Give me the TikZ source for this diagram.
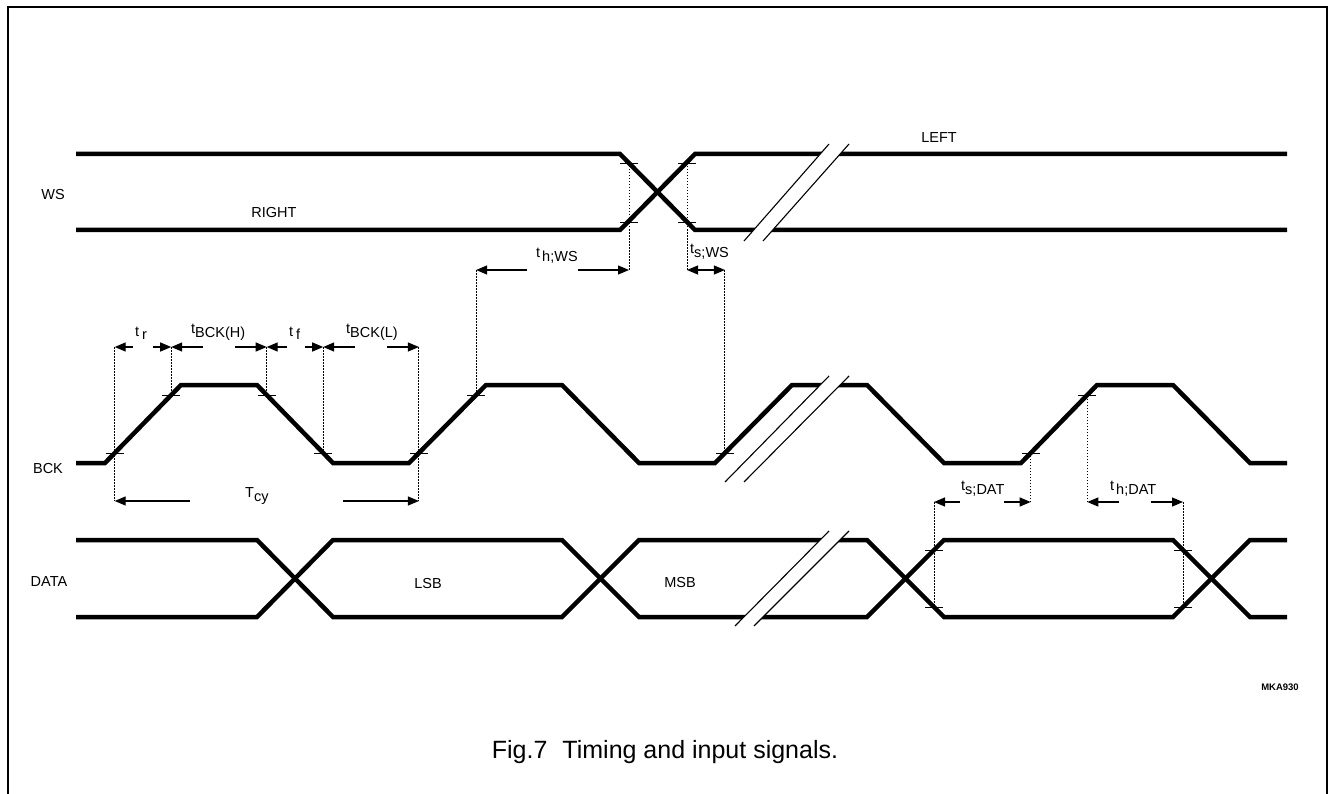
\documentclass[tikz,border=0pt]{standalone}
\usepackage{fontspec}
\setmainfont{Liberation Sans}
\usetikzlibrary{arrows.meta}
\newcommand\mysub[2]{#1\raisebox{-4pt}{#2}}
\begin{document}
\begin{tikzpicture}[x=1pt,y=-1pt,
 sig/.style={line width=4.5pt, line join=miter, line cap=butt},
 tickmark/.style={line width=0.9pt},
 guide/.style={line width=0.9pt, dash pattern=on 1.5pt off 1.5pt},
 dim/.style={line width=1.2pt},
 arr/.style={dim, -{Triangle[length=11pt,width=9pt]}},
 darr/.style={dim, {Triangle[length=11pt,width=9pt]}-{Triangle[length=11pt,width=9pt]}},
 brk/.style={line width=1.1pt},
 lbl/.style={font=\fontsize{14.5}{16}\selectfont, inner sep=0pt},
 tlbl/.style={lbl, anchor=base west},
]
\useasboundingbox (0,0) rectangle (1329,794);
% frame
\draw[line width=2pt] (7.5,794) -- (7.5,7) -- (1327,7) -- (1327,794);

% ---------- WS ----------
\draw[sig] (76,154) -- (620,154) -- (695,230) -- (1287,230);
\draw[sig] (76,230) -- (620,230) -- (695,154) -- (1287,154);
\fill[white] (744,241) -- (829,144) -- (849,144) -- (763,241) -- cycle;
\draw[brk] (744,241) -- (829,144);
\draw[brk] (763,241) -- (849,144);

% ---------- BCK ----------
\draw[sig] (76,463) -- (105,463) -- (181,385) -- (257,385) -- (333,463) -- (409,463) -- (486,385) -- (562,385) -- (639,463) -- (715,463) -- (792,385) -- (867,385) -- (944,463) -- (1021,463) -- (1097,385) -- (1173,385) -- (1250,463) -- (1287,463);
\fill[white] (725,482) -- (829,376) -- (849,376) -- (744,482) -- cycle;
\draw[brk] (725,482) -- (829,376);
\draw[brk] (744,482) -- (849,376);

% ---------- DATA ----------
\draw[sig] (76,540) -- (257,540) -- (333,617) -- (562,617) -- (639,540) -- (867,540) -- (944,617) -- (1173,617) -- (1250,540) -- (1287,540);
\draw[sig] (76,617) -- (257,617) -- (333,540) -- (562,540) -- (639,617) -- (867,617) -- (944,540) -- (1173,540) -- (1250,617) -- (1287,617);
\fill[white] (735,626) -- (829,531) -- (849,531) -- (754,626) -- cycle;
\draw[brk] (735,626) -- (829,531);
\draw[brk] (754,626) -- (849,531);

% ---------- reference coordinates ----------
\coordinate (wAd) at (629,270); \coordinate (wBd) at (687,270);
\coordinate (r1) at (114.7,347); \coordinate (h1) at (171.2,347);
\coordinate (f1) at (266.7,347); \coordinate (l1) at (323.2,347);
\coordinate (r2) at (418.9,347);
\coordinate (r1c) at (114.7,501); \coordinate (r2c) at (418.9,501);
\coordinate (hw) at (476.1,270); \coordinate (sw) at (724.9,270);
\coordinate (sd) at (934,502); \coordinate (bs) at (1030.7,502);
\coordinate (bh) at (1087.3,502); \coordinate (hd) at (1183,502);

% ticks
\foreach \x/\y in {629/163,629/222,687/163,687/222,
  114.7/453,171.2/395,266.7/395,323.2/453,418.9/453,476.1/395,724.9/453,1030.7/453,1087.3/395,
  934/550,934/607,1183/550,1183/607}
  \draw[tickmark] (\x-9,\y) -- (\x+9,\y);

% guides
\draw[guide] (629,163) -- (wAd);
\draw[guide] (687,163) -- (wBd);
\draw[guide] (sw) -- (724.9,453);
\draw[guide] (hw) -- (476.1,395);
\draw[guide] (r1) -- (r1c);
\draw[guide] (h1) -- (171.2,395);
\draw[guide] (f1) -- (266.7,395);
\draw[guide] (l1) -- (323.2,453);
\draw[guide] (r2) -- (r2c);
\draw[guide] (sd) -- (934,607);
\draw[guide] (hd) -- (1183,607);
\draw[guide] (bs) -- (1030.7,453);
\draw[guide] (bh) -- (1087.3,395);

% dimension arrows
\draw[arr] (133,347) -- (r1);  \draw[arr] (153,347) -- (h1);
\draw[arr] (203,347) -- (h1);  \draw[arr] (235,347) -- (f1);
\draw[arr] (287,347) -- (f1);  \draw[arr] (305,347) -- (l1);
\draw[arr] (355,347) -- (l1);  \draw[arr] (387,347) -- (r2);
\draw[arr] (190,501) -- (r1c); \draw[arr] (343,501) -- (r2c);
\draw[arr] (527,270) -- (hw);  \draw[arr] (578,270) -- (wAd);
\draw[darr] (wBd) -- (sw);
\draw[arr] (960,502) -- (sd);  \draw[arr] (1004,502) -- (bs);
\draw[arr] (1119,502) -- (bh); \draw[arr] (1151,502) -- (hd);

% signal labels
\node[lbl] (ws) at (53,195) {WS};
\node[lbl] (right) at (274,213) {RIGHT};
\node[lbl] (left) at (939,138) {LEFT};
\node[lbl] (bck) at (48,469) {BCK};
\node[lbl] (data) at (49,582) {DATA};
\node[lbl] (lsb) at (428,584) {LSB};
\node[lbl] (msb) at (680,583) {MSB};

% timing labels
\node[tlbl] (ttr) at (135,336) {t\hspace{3pt}\raisebox{-3pt}{r}};
\node[tlbl] (tbh) at (191,333) {\mysub{t}{BCK(H)}};
\node[tlbl] (ttf) at (289,336) {t\hspace{3pt}\raisebox{-3pt}{f}};
\node[tlbl] (tbl) at (346,333) {\mysub{t}{BCK(L)}};
\node[tlbl] (thws) at (536,258) {t\hspace{2pt}\raisebox{-4pt}{h;WS}};
\node[tlbl] (tsws) at (690,253) {\mysub{t}{s;WS}};
\node[tlbl] (tcy) at (245,497) {\mysub{T}{cy}};
\node[tlbl] (tsdat) at (961,490) {\mysub{t}{s;DAT}};
\node[tlbl] (thdat) at (1110,490) {t\hspace{2pt}\raisebox{-4pt}{h;DAT}};

\node[inner sep=0pt, font=\fontsize{9.5}{11}\selectfont\bfseries] (code) at (1280,687) {MKA930};
\node[inner sep=0pt, font=\fontsize{25}{29}\selectfont] (cap) at (665,752) {Fig.7\hspace{0.6em}Timing and input signals.};
\end{tikzpicture}
\end{document}
